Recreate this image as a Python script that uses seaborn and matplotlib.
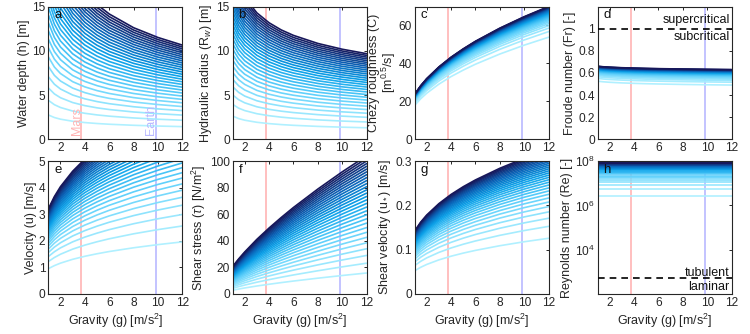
import numpy as np
import pandas as pd
import matplotlib
matplotlib.use("Agg")
import matplotlib.pyplot as plt
from matplotlib.colors import LinearSegmentedColormap
from matplotlib.ticker import FuncFormatter, NullLocator
import seaborn as sns

# ---------------- data ----------------
gravity = [1, 1.5, 2, 3, 4, 5, 6, 8, 10, 12]        # sample positions along x [m/s2]
g_mars = 3.71
g_earth = 9.81

# each family: value of every line at g=1 (start) and g=12 (end), lowest line first,
# plus the fraction of the start->end change reached at each gravity sample
depth_start = [2.75, 4.409, 5.811, 7.069, 8.229, 9.317, 10.348, 11.333, 12.279, 13.194,
               14.078, 14.936, 15.773, 16.590, 17.388, 18.169, 18.935, 19.688, 20.425, 21.152,
               21.866, 22.571, 23.265, 23.950, 24.625, 25.291, 25.947, 26.599, 27.242, 27.880]
depth_end = [1.43, 2.152, 2.734, 3.240, 3.697, 4.116, 4.507, 4.878, 5.228, 5.563,
             5.886, 6.195, 6.495, 6.785, 7.067, 7.342, 7.609, 7.869, 8.125, 8.374,
             8.619, 8.859, 9.095, 9.326, 9.552, 9.777, 9.996, 10.213, 10.426, 10.638]
depth_shape = [0, 0.222, 0.363, 0.540, 0.653, 0.734, 0.796, 0.886, 0.950, 1]

radius_start = [2.63, 3.958, 5.029, 5.960, 6.799, 7.569, 8.290, 8.971, 9.615, 10.231,
                10.825, 11.393, 11.945, 12.479, 12.997, 13.502, 13.994, 14.473, 14.944, 15.401,
                15.851, 16.293, 16.727, 17.153, 17.568, 17.981, 18.384, 18.783, 19.175, 19.565]
radius_end = [1.30, 1.957, 2.486, 2.946, 3.361, 3.741, 4.098, 4.434, 4.753, 5.057,
              5.351, 5.632, 5.905, 6.169, 6.425, 6.674, 6.917, 7.154, 7.387, 7.613,
              7.835, 8.054, 8.268, 8.479, 8.684, 8.888, 9.087, 9.285, 9.478, 9.671]
radius_shape = [0, 0.218, 0.357, 0.534, 0.647, 0.729, 0.791, 0.883, 0.949, 1]

chezy_start = [17.80, 18.85, 19.50, 19.97, 20.34, 20.65, 20.92, 21.15, 21.36, 21.55,
               21.72, 21.88, 22.02, 22.16, 22.29, 22.41, 22.52, 22.63, 22.73, 22.82,
               22.92, 23.01, 23.09, 23.17, 23.25, 23.33, 23.40, 23.47, 23.54, 23.61]
chezy_end = [53.80, 56.76, 58.58, 59.90, 60.94, 61.81, 62.54, 63.19, 63.78, 64.30,
             64.78, 65.21, 65.61, 65.99, 66.35, 66.68, 66.99, 67.29, 67.57, 67.84,
             68.10, 68.34, 68.58, 68.81, 69.02, 69.23, 69.43, 69.63, 69.82, 70.00]
chezy_shape = [0, 0.098, 0.180, 0.313, 0.424, 0.519, 0.605, 0.754, 0.884, 1]

froude_start = [0.525, 0.5501, 0.5653, 0.5764, 0.5851, 0.5923, 0.5985, 0.6039, 0.6087, 0.6130,
                0.6169, 0.6206, 0.6239, 0.6271, 0.6300, 0.6327, 0.6353, 0.6377, 0.6401, 0.6423,
                0.6444, 0.6464, 0.6484, 0.6502, 0.6520, 0.6537, 0.6554, 0.6570, 0.6586, 0.6600]
froude_end = [0.490, 0.5158, 0.5315, 0.5429, 0.5519, 0.5594, 0.5658, 0.5714, 0.5764, 0.5809,
              0.5850, 0.5888, 0.5923, 0.5956, 0.5986, 0.6014, 0.6041, 0.6067, 0.6091, 0.6114,
              0.6136, 0.6157, 0.6177, 0.6197, 0.6216, 0.6234, 0.6251, 0.6268, 0.6284, 0.6300]
froude_shape = [0, 0.163, 0.279, 0.442, 0.558, 0.648, 0.721, 0.837, 0.927, 1]

velocity_start = [0.950, 1.217, 1.406, 1.558, 1.688, 1.801, 1.903, 1.996, 2.082, 2.161,
                  2.236, 2.307, 2.374, 2.437, 2.498, 2.556, 2.612, 2.666, 2.718, 2.768,
                  2.817, 2.864, 2.910, 2.954, 2.998, 3.040, 3.081, 3.122, 3.161, 3.199]
velocity_end = [1.960, 2.559, 2.992, 3.342, 3.642, 3.907, 4.146, 4.365, 4.567, 4.756,
                4.934, 5.102, 5.262, 5.414, 5.560, 5.699, 5.834, 5.964, 6.089, 6.211,
                6.329, 6.443, 6.554, 6.663, 6.768, 6.871, 6.972, 7.070, 7.166, 7.260]
velocity_shape = [0, 0.115, 0.207, 0.350, 0.463, 0.557, 0.640, 0.780, 0.898, 1]

stress_start = [2.75, 4.139, 5.258, 6.232, 7.109, 7.915, 8.668, 9.380, 10.054, 10.698,
                11.319, 11.913, 12.491, 13.049, 13.591, 14.119, 14.633, 15.133, 15.626, 16.104,
                16.574, 17.036, 17.490, 17.936, 18.370, 18.802, 19.223, 19.641, 20.050, 20.457]
stress_end = [15.75, 23.14, 28.98, 34.00, 38.48, 42.58, 46.38, 49.94, 53.32, 56.53,
              59.60, 62.55, 65.39, 68.14, 70.80, 73.38, 75.89, 78.34, 80.72, 83.05,
              85.33, 87.56, 89.75, 91.90, 94.00, 96.07, 98.10, 100.10, 102.07, 104.01]
stress_shape = [0, 0.070, 0.133, 0.247, 0.349, 0.444, 0.534, 0.700, 0.855, 1]

ustar_start = [0.0520, 0.0638, 0.0719, 0.0783, 0.0836, 0.0882, 0.0923, 0.0960, 0.0994, 0.1026,
               0.1055, 0.1082, 0.1108, 0.1133, 0.1156, 0.1178, 0.1199, 0.1220, 0.1240, 0.1258,
               0.1277, 0.1294, 0.1311, 0.1328, 0.1344, 0.1360, 0.1375, 0.1390, 0.1404, 0.1418]
ustar_end = [0.1257, 0.1526, 0.1710, 0.1853, 0.1973, 0.2076, 0.2167, 0.2250, 0.2326, 0.2395,
             0.2460, 0.2521, 0.2578, 0.2632, 0.2683, 0.2732, 0.2779, 0.2824, 0.2867, 0.2908,
             0.2948, 0.2987, 0.3024, 0.3061, 0.3096, 0.3130, 0.3163, 0.3196, 0.3227, 0.3258]
ustar_shape = [0, 0.110, 0.198, 0.338, 0.451, 0.546, 0.629, 0.772, 0.894, 1]

reynolds_millions = [2.8, 5.6, 8.4, 11.2, 14.0, 16.8, 19.6, 22.4, 25.2, 28.0,
                     30.8, 33.6, 36.4, 39.2, 42.0, 44.8, 47.6, 50.4, 53.2, 56.0,
                     58.8, 61.6, 64.4, 67.2, 70.0, 72.8, 75.6, 78.4, 81.2, 84.0]
froude_critical = 1.0
reynolds_critical = 500

# ---------------- styling ----------------
sns.set_theme(style="white")
plt.rcParams['font.family'] = ['Liberation Sans', 'DejaVu Sans']
plt.rcParams['mathtext.fontset'] = 'custom'
plt.rcParams['mathtext.rm'] = 'Liberation Sans'
plt.rcParams['mathtext.it'] = 'Liberation Sans:italic'
plt.rcParams['axes.unicode_minus'] = False

n_lines = len(reynolds_millions)
names = [f"L{i:02d}" for i in range(n_lines)]
cmap = LinearSegmentedColormap.from_list(
    "flow", ["#b0f0ff", "#5ccffb", "#0aa0e8", "#0a5fb4", "#17175a"])
palette = {nm: cmap(i / (n_lines - 1)) for i, nm in enumerate(names)}

MARS_C = "#ffb4b4"
EARTH_C = "#b9b9ff"
TICK_FS = 8.6
LABEL_FS = 9.0
INK = "#262626"

fig = plt.figure(figsize=(7.5, 3.34), dpi=100)
col_left = [0.0644, 0.310, 0.5527, 0.7967]
row_bottom = [0.583, 0.120]
w, h = 0.1787, 0.3975
axes = [[fig.add_axes([col_left[c], row_bottom[r], w, h]) for c in range(4)] for r in range(2)]


def draw_family(ax, start, end, shape):
    s = np.asarray(start, float)
    e = np.asarray(end, float)
    f = np.asarray(shape, float)
    vals = s[:, None] + (e - s)[:, None] * f[None, :]
    df = pd.DataFrame({
        "g": np.tile(gravity, n_lines),
        "v": vals.ravel(),
        "line": np.repeat(names, len(gravity)),
    })
    sns.lineplot(data=df, x="g", y="v", hue="line", hue_order=names, palette=palette,
                 legend=False, ax=ax, lw=1.2, estimator=None, zorder=2)


def style(ax, ylim, yticks, ylabel, letter, xlabel=False, labelpad=1.5, linespacing=1.2):
    ax.axvline(g_mars, color=MARS_C, lw=1.2, zorder=1)
    ax.axvline(g_earth, color=EARTH_C, lw=1.2, zorder=1)
    ax.set_xlim(1, 12)
    ax.set_ylim(*ylim)
    ax.set_xticks([2, 4, 6, 8, 10, 12])
    ax.set_yticks(yticks)
    ax.tick_params(direction="in", length=2.5, width=0.7, top=True, right=True,
                   labelsize=TICK_FS, pad=2, colors=INK, labelcolor=INK)
    for sp in ax.spines.values():
        sp.set_visible(True)
        sp.set_color(INK)
        sp.set_linewidth(0.8)
    ax.set_ylabel(ylabel, fontsize=LABEL_FS, labelpad=labelpad, color=INK,
                  linespacing=linespacing)
    ax.set_xlabel("Gravity (g) [m/s$^2$]" if xlabel else "", fontsize=LABEL_FS,
                  labelpad=2, color=INK)
    ax.text(0.045, 0.935, letter, transform=ax.transAxes, ha="left", va="center",
            fontsize=9.5, color="#111111", zorder=5)


fmt = FuncFormatter(lambda v, p: f"{v:g}")

# a  water depth
ax = axes[0][0]
draw_family(ax, depth_start, depth_end, depth_shape)
style(ax, (0, 15), [0, 5, 10, 15], "Water depth (h) [m]", "a")
ax.text(3.36, 0.45, "Mars", rotation=90, color=MARS_C, fontsize=9, ha="center", va="bottom")
ax.text(9.42, 0.45, "Earth", rotation=90, color=EARTH_C, fontsize=9, ha="center", va="bottom")

# b  hydraulic radius
ax = axes[0][1]
draw_family(ax, radius_start, radius_end, radius_shape)
style(ax, (0, 15), [0, 5, 10, 15], "Hydraulic radius (R$_w$) [m]", "b")

# c  chezy
ax = axes[0][2]
draw_family(ax, chezy_start, chezy_end, chezy_shape)
style(ax, (0, 70), [0, 20, 40, 60], "Chezy roughness (C)\n[m$^{0.5}$/s]", "c",
      labelpad=0.5, linespacing=0.95)

# d  froude
ax = axes[0][3]
draw_family(ax, froude_start, froude_end, froude_shape)
style(ax, (0, 1.2), [0, 0.2, 0.4, 0.6, 0.8, 1.0], "Froude number (Fr) [-]", "d")
ax.yaxis.set_major_formatter(fmt)
ax.axhline(froude_critical, color="black", lw=1.2, ls=(0, (4, 3)), zorder=3)
ax.text(11.85, 1.075, "supercritical", ha="right", va="center", fontsize=9, color="#111111")
ax.text(11.85, 0.92, "subcritical", ha="right", va="center", fontsize=9, color="#111111")

# e  velocity
ax = axes[1][0]
draw_family(ax, velocity_start, velocity_end, velocity_shape)
style(ax, (0, 5), [0, 1, 2, 3, 4, 5], "Velocity (u) [m/s]", "e", xlabel=True)

# f  shear stress
ax = axes[1][1]
draw_family(ax, stress_start, stress_end, stress_shape)
style(ax, (0, 100), [0, 20, 40, 60, 80, 100], r"Shear stress ($\tau$) [N/m$^2$]", "f", xlabel=True)

# g  shear velocity
ax = axes[1][2]
draw_family(ax, ustar_start, ustar_end, ustar_shape)
style(ax, (0, 0.3), [0, 0.1, 0.2, 0.3], "Shear velocity (u$_*$) [m/s]", "g", xlabel=True)
ax.yaxis.set_major_formatter(fmt)

# h  reynolds
ax = axes[1][3]
re_vals = [v * 1e6 for v in reynolds_millions]
draw_family(ax, re_vals, re_vals, [0] * len(gravity))
ax.set_yscale("log")
style(ax, (1e2, 1e8), [1e4, 1e6, 1e8], "Reynolds number (Re) [-]", "h", xlabel=True)
ax.yaxis.set_minor_locator(NullLocator())
ax.axhline(reynolds_critical, color="black", lw=1.2, ls=(0, (4, 3)), zorder=3)
ax.text(11.85, 870, "tubulent", ha="right", va="center", fontsize=9, color="#111111")
ax.text(11.85, 205, "laminar", ha="right", va="center", fontsize=9, color="#111111")

fig.savefig("out.png", dpi=100)
